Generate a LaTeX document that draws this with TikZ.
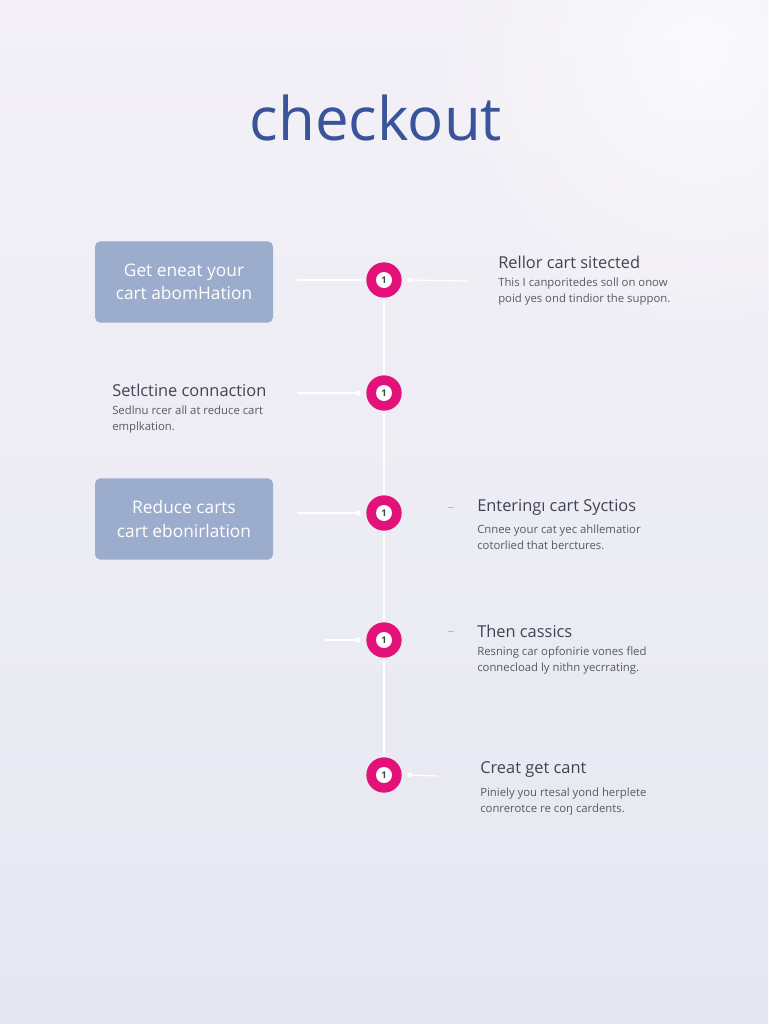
\documentclass[tikz,border=0pt]{standalone}
\usepackage{fontspec}
\setmainfont{Open Sans}
\usetikzlibrary{positioning}

\definecolor{bgtop}{HTML}{F3F1F7}
\definecolor{bgbot}{HTML}{E6E7F1}
\definecolor{titleblue}{HTML}{3A549B}
\definecolor{boxblue}{HTML}{9CACCC}
\definecolor{dotpink}{HTML}{E3127A}
\definecolor{headgray}{HTML}{3F4453}
\definecolor{textgray}{HTML}{555A66}
\definecolor{dashgray}{HTML}{B8BAC6}

\tikzset{
    stepdot/.style={circle, fill=dotpink, minimum size=26.5pt, inner sep=0pt},
    stepbox/.style={rectangle, rounded corners=4pt, fill=boxblue, minimum width=133.5pt,
        minimum height=61pt, align=center, text=white, font=\fontsize{13}{17.5}\selectfont},
    headtext/.style={anchor=west, text=headgray, inner sep=0pt, font=\fontsize{12.3}{14}\selectfont},
    desctext/.style={anchor=north west, text=textgray, inner sep=0pt, align=left,
        font=\fontsize{8.5}{12}\selectfont},
    wire/.style={white, line width=0.9pt},
}

\begin{document}
\begin{tikzpicture}[x=0.75pt, y=-0.75pt]
\useasboundingbox (0,0) rectangle (768,1024);

%% Background
\shade[top color=bgtop, bottom color=bgbot] (0,0) rectangle (768,1024);
\shade[inner color=white, outer color=bgtop, opacity=0.6] (700,60) circle [radius=260];

%% Title
\node[text=titleblue, font=\fontsize{45}{52}\selectfont] (title) at (376,118) {checkout};

%% Spine and step dots
\foreach \n/\y in {1/280, 2/393, 3/513, 4/640, 5/775}
    \node[stepdot] (s\n) at (384,\y) {};
\draw[wire] (s1) -- (s2) -- (s3) -- (s4) -- (s5);
\foreach \n in {1,...,5} {
    \fill[white] (s\n) circle [radius=8];
    \node[text=headgray, font=\bfseries\fontsize{7}{7}\selectfont, inner sep=0pt] at (s\n) {1};
}

%% Left side
\node[stepbox] (b1) at (184,282) {Get eneat your\\cart abomHation};
\node[stepbox] (b3) at (184,519) {Reduce carts\\cart ebonirlation};

\node[headtext] (h2) at (112,390) {Setlctine connaction};
\node[desctext, below=7pt of h2.south west, anchor=north west] (d2) {Sedlnu rcer all at reduce cart\\emplkation.};

\coordinate (l1) at (297,280);
\coordinate (l2) at (297,393);
\coordinate (l3) at (297,513);
\coordinate (l4) at (325,640);
\draw[wire] (l1) -- (s1.west);
\draw[wire] (l2) -- ([xshift=-6]s2.west) coordinate (e2);
\draw[wire] (l3) -- ([xshift=-6]s3.west) coordinate (e3);
\draw[wire] (l4) -- ([xshift=-6]s4.west) coordinate (e4);
\foreach \e in {e2,e3,e4}
    \fill[white] (\e) circle [radius=2.6];

%% Right side
\coordinate (r1) at (468,281);
\coordinate (r5) at (437,776);
\draw[wire] ([xshift=6]s1.east) coordinate (f1) -- (r1);
\draw[wire] ([xshift=6]s5.east) coordinate (f5) -- (r5);
\foreach \f in {f1,f5}
    \fill[white] (\f) circle [radius=2.6];

\node[headtext] (h1) at (498,262) {Rellor cart sitected};
\node[desctext, below=7pt of h1.south west, anchor=north west] (d1) {This I canporitedes soll on onow\\poid yes ond tindior the suppon.};

\node[headtext] (h3) at (477,507) {Enteringı cart Syctios};
\node[desctext, below=7pt of h3.south west, anchor=north west] (d3) {Cnnee your cat yec ahllematior\\cotorlied that berctures.};

\node[headtext] (h4) at (477,631) {Then cassics};
\node[desctext, below=7pt of h4.south west, anchor=north west] (d4) {Resning car opfonirie vones fled\\connecload ly nithn yecrrating.};

\node[headtext] (h5) at (480,770) {Creat get cant};
\node[desctext, below=7pt of h5.south west, anchor=north west] (d5) {Piniely you rtesal yond herplete\\conrerotce re coŋ cardents.};

%% Small dashes in front of headings
\foreach \h in {h3,h4}
    \draw[dashgray, line width=0.6pt] ([xshift=-22]\h.west) -- ++(6,0);
\end{tikzpicture}
\end{document}
